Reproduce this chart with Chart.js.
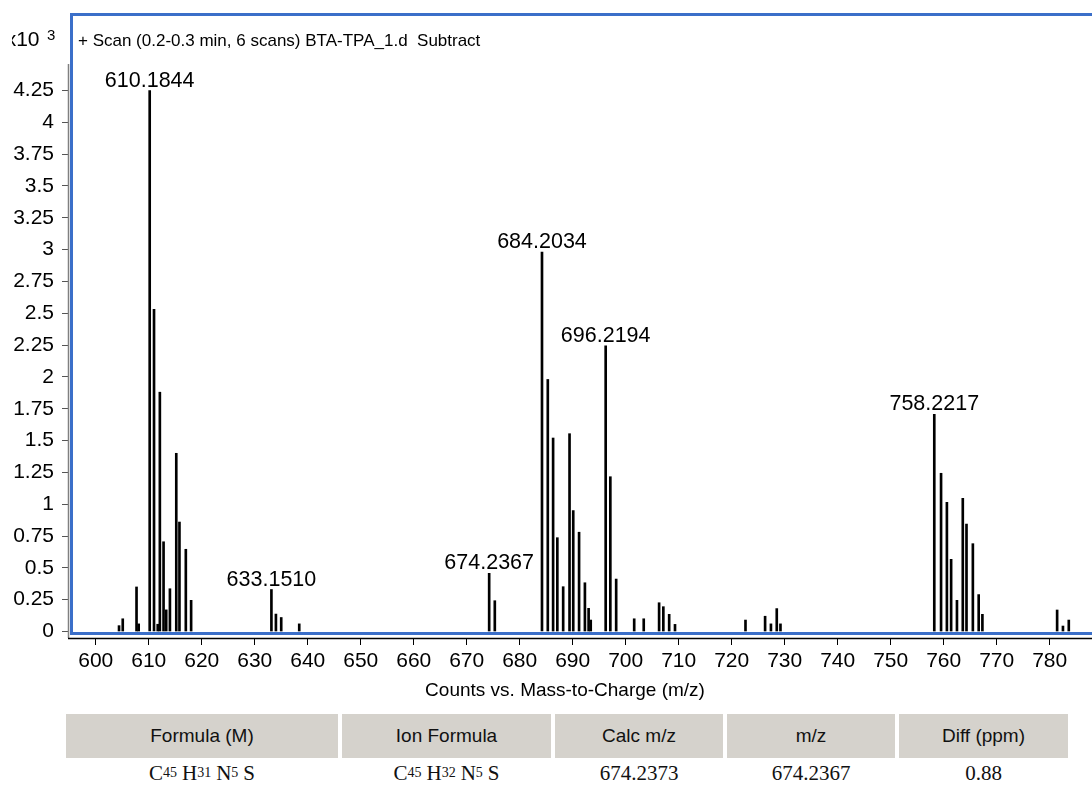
<!DOCTYPE html>
<html>
<head>
<meta charset="utf-8">
<script src="https://cdn.jsdelivr.net/npm/chart.js@4.4.1/dist/chart.umd.min.js"></script>
<style>
  html, body { margin: 0; padding: 0; background: #fff; overflow: hidden; }
  #wrap { position: relative; width: 1092px; height: 793px; }
  #spec { position: absolute; left: 0; top: 0; }
  .hd, .cell { position: absolute; display: flex; align-items: center; justify-content: center; white-space: nowrap; }
  .hd { top: 714px; height: 44px; background: #d5d2cc; font: 19px "Liberation Sans", Arial, sans-serif; color: #111; }
  .cell { top: 759px; height: 28px; font: 21px "Liberation Serif", "Times New Roman", serif; color: #111; }
  .cell sub { font-size: 14px; vertical-align: -4px; line-height: 0; margin-right: 5px; }
</style>
</head>
<body>
<div id="wrap">
  <canvas id="spec" width="1092" height="705"></canvas>
  <div class="hd" style="left:66px;width:272px">Formula (M)</div>
  <div class="hd" style="left:342px;width:209px">Ion Formula</div>
  <div class="hd" style="left:555px;width:168px">Calc m/z</div>
  <div class="hd" style="left:727px;width:168px">m/z</div>
  <div class="hd" style="left:899px;width:169px">Diff (ppm)</div>
  <div class="cell" style="left:66px;width:272px">C<sub>45</sub> H<sub>31</sub> N<sub>5</sub> S</div>
  <div class="cell" style="left:342px;width:209px">C<sub>45</sub> H<sub>32</sub> N<sub>5</sub> S</div>
  <div class="cell" style="left:555px;width:168px">674.2373</div>
  <div class="cell" style="left:727px;width:168px">674.2367</div>
  <div class="cell" style="left:899px;width:169px">0.88</div>
</div>
<script>
// m/z de cada pico y su intensidad (x10^3 counts)
const mz = [
  604.4, 605.1, 607.7, 608.1, 610.1844, 611.0, 611.7, 612.1, 612.8, 613.3, 614.0, 615.2, 615.8, 617.0, 618.0,
  633.1510, 634.0, 635.0, 638.4,
  674.2367, 675.3,
  684.2034, 685.3, 686.3, 687.1, 688.2, 689.4, 690.1, 691.2, 692.3, 693.0, 693.4,
  696.2194, 697.1, 698.2, 701.6, 703.4, 706.3, 707.1, 708.2, 709.3,
  722.6, 726.3, 727.4, 728.5, 729.2,
  758.2217, 759.5, 760.6, 761.4, 762.5, 763.6, 764.3, 765.5, 766.6, 767.3,
  781.4, 782.5, 783.6
];
const counts = [
  0.046, 0.10, 0.35, 0.06, 4.25, 2.53, 0.057, 1.88, 0.705, 0.17, 0.336, 1.40, 0.86, 0.646, 0.245,
  0.33, 0.137, 0.11, 0.06,
  0.457, 0.242,
  2.98, 1.98, 1.52, 0.737, 0.352, 1.554, 0.95, 0.78, 0.383, 0.182, 0.09,
  2.245, 1.216, 0.412, 0.10, 0.10, 0.226, 0.195, 0.135, 0.056,
  0.09, 0.12, 0.06, 0.18, 0.06,
  1.706, 1.243, 1.015, 0.567, 0.245, 1.046, 0.844, 0.69, 0.29, 0.135,
  0.169, 0.043, 0.09
];
// picos etiquetados
const labelMz = [610.1844, 633.1510, 674.2367, 684.2034, 696.2194, 758.2217];
const labelCounts = [4.25, 0.33, 0.457, 2.98, 2.245, 1.706];

const xTicks = [600, 610, 620, 630, 640, 650, 660, 670, 680, 690, 700, 710, 720, 730, 740, 750, 760, 770, 780];
const yTicks = [0, 0.25, 0.5, 0.75, 1, 1.25, 1.5, 1.75, 2, 2.25, 2.5, 2.75, 3, 3.25, 3.5, 3.75, 4, 4.25];

const titleText = '+ Scan (0.2-0.3 min, 6 scans) BTA-TPA_1.d  Subtract';
const xTitle = 'Counts vs. Mass-to-Charge (m/z)';
const SANS = '"Liberation Sans", Arial, sans-serif';

const decor = {
  id: 'decor',
  afterDatasetsDraw(chart) {
    const { ctx, chartArea: a, scales } = chart;
    ctx.save();
    // marco azul
    ctx.strokeStyle = '#3b6fc9';
    ctx.lineWidth = 3;
    ctx.beginPath();
    ctx.moveTo(1092, 14.5);
    ctx.lineTo(71.5, 14.5);
    ctx.lineTo(71.5, 633.5);
    ctx.lineTo(1092, 633.5);
    ctx.stroke();
    // ejes
    ctx.lineWidth = 1.5;
    ctx.strokeStyle = '#808080';
    ctx.beginPath();
    ctx.moveTo(68.5, 64);
    ctx.lineTo(68.5, a.bottom);
    ctx.stroke();
    ctx.strokeStyle = '#000';
    ctx.beginPath();
    ctx.moveTo(68, a.bottom + 0.5);
    ctx.lineTo(1092, a.bottom + 0.5);
    ctx.stroke();

    // etiquetas de picos
    ctx.fillStyle = '#000';
    ctx.font = '21.5px ' + SANS;
    ctx.textAlign = 'center';
    ctx.textBaseline = 'alphabetic';
    labelMz.forEach((m, i) => {
      const px = scales.x.getPixelForValue(m);
      const py = scales.y.getPixelForValue(labelCounts[i]);
      ctx.fillText(m.toFixed(4), px, py - 4);
    });

    // titulo del espectro
    ctx.font = '17px ' + SANS;
    ctx.textAlign = 'left';
    ctx.fillText(titleText, 78, 46);

    // x10^3 (recortado a la izquierda)
    ctx.save();
    ctx.beginPath();
    ctx.rect(12, 0, 60, 60);
    ctx.clip();
    ctx.font = '21px ' + SANS;
    ctx.textAlign = 'right';
    ctx.fillText('x10', 39.5, 46);
    ctx.restore();
    ctx.font = '15px ' + SANS;
    ctx.textAlign = 'left';
    ctx.fillText('3', 47, 40);

    // titulo eje x
    ctx.font = '19px ' + SANS;
    ctx.textAlign = 'center';
    ctx.fillText(xTitle, 565, 696);
    ctx.restore();
  }
};

new Chart(document.getElementById('spec').getContext('2d'), {
  type: 'bar',
  data: {
    datasets: [{
      data: mz.map((m, i) => ({ x: m, y: counts[i] })),
      backgroundColor: '#000',
      borderWidth: 0,
      barThickness: 2
    }]
  },
  options: {
    responsive: false,
    animation: false,
    layout: { padding: { top: 14, right: 0, left: 0, bottom: 0 } },
    plugins: { legend: { display: false }, tooltip: { enabled: false } },
    scales: {
      x: {
        type: 'linear',
        offset: false,
        min: 594.77,
        max: 787.98,
        afterFit: s => { s.height = 67; s.paddingLeft = 0; s.paddingRight = 0; },
        afterBuildTicks: s => { s.ticks = xTicks.map(v => ({ value: v })); },
        border: { display: false },
        grid: { offset: false, drawOnChartArea: false, drawTicks: true, tickLength: 7, color: '#000', lineWidth: 1 },
        ticks: { autoSkip: false, maxRotation: 0, padding: 4, color: '#000', font: { family: SANS, size: 21 } }
      },
      y: {
        min: -0.051,
        max: 4.851,
        afterFit: s => { s.width = 68; s.paddingTop = 0; s.paddingBottom = 0; },
        afterBuildTicks: s => { s.ticks = yTicks.map(v => ({ value: v })); },
        border: { display: false },
        grid: { drawOnChartArea: false, drawTicks: true, tickLength: 6, color: '#555', lineWidth: 1 },
        ticks: { padding: 8, color: '#000', font: { family: SANS, size: 21 }, callback: v => String(v) }
      }
    }
  },
  plugins: [decor]
});
</script>
</body>
</html>
